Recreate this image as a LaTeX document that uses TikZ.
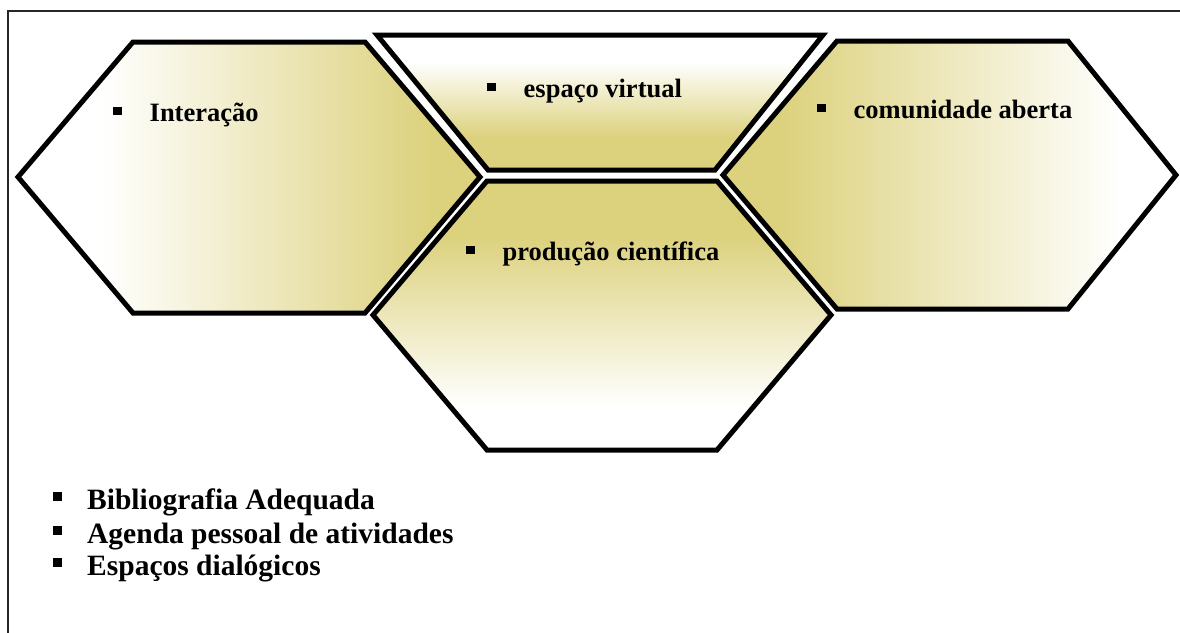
\documentclass[tikz,border=0pt]{standalone}
\usepackage{fontspec}
\setmainfont{Liberation Serif}
\definecolor{khaki}{RGB}{220,209,124}
\pgfdeclarehorizontalshading{lefthex}{100bp}{color(0bp)=(white); color(34bp)=(white); color(70bp)=(khaki); color(100bp)=(khaki)}
\pgfdeclarehorizontalshading{righthex}{100bp}{color(0bp)=(khaki); color(31bp)=(khaki); color(69bp)=(white); color(100bp)=(white)}
\pgfdeclareverticalshading{tophex}{100bp}{color(0bp)=(khaki); color(37bp)=(khaki); color(65bp)=(white); color(100bp)=(white)}
\pgfdeclareverticalshading{bothex}{100bp}{color(0bp)=(white); color(33bp)=(white); color(65bp)=(khaki); color(100bp)=(khaki)}
\newcommand\hexbul{\raisebox{6pt}{\rule{8.5pt}{8.5pt}}\hspace{28pt}}
\newcommand\listbul{\raisebox{8pt}{\rule{9pt}{9pt}}\hspace{25pt}}
\begin{document}
\begin{tikzpicture}[x=1pt,y=-1pt,
  hexline/.style={draw=black,line width=5pt,line join=miter},
  hexlbl/.style={anchor=base west,inner sep=0pt,font=\bfseries\fontsize{26.5}{30}\selectfont},
  listlbl/.style={anchor=base west,inner sep=0pt,font=\bfseries\fontsize{29.5}{33}\selectfont},
  frameline/.style={draw=black!85,line width=1.5pt}]
\useasboundingbox (0,0) rectangle (1180,632);
\clip (0,0) rectangle (1180,632);
\fill[white] (0,0) rectangle (1180,632);
% outer frame (right and bottom sides fall outside the page)
\draw[frameline] (8,11) rectangle (1200,660);
% left hexagon
\shadedraw[hexline,shading=lefthex]
  (133,42) -- (365,42) -- (480,177) -- (365,313) -- (133,313) -- (18,177) -- cycle;
% top trapezoid
\shadedraw[hexline,shading=tophex]
  (377,35) -- (823,35) -- (715,170) -- (488,170) -- cycle;
% right hexagon
\shadedraw[hexline,shading=righthex]
  (837,41) -- (1068,41) -- (1176,175) -- (1068,309) -- (837,309) -- (723,175) -- cycle;
% bottom hexagon
\shadedraw[hexline,shading=bothex]
  (487,181) -- (717,181) -- (831,315) -- (717,450) -- (487,450) -- (373,315) -- cycle;
% labels
\node[hexlbl] (interacao) at (113,121) {\hexbul Interação};
\node[hexlbl] (espaco) at (487,97) {\hexbul espaço virtual};
\node[hexlbl] (comunidade) at (817,118) {\hexbul comunidade aberta};
\node[hexlbl] (producao) at (466,260) {\hexbul produção científica};
% bottom list
\node[listlbl] (biblio) at (53,509) {\listbul Bibliografia Adequada};
\node[listlbl] (agenda) at (53,543) {\listbul Agenda pessoal de atividades};
\node[listlbl] (espacos) at (53,575) {\listbul Espaços dialógicos};
\end{tikzpicture}
\end{document}
